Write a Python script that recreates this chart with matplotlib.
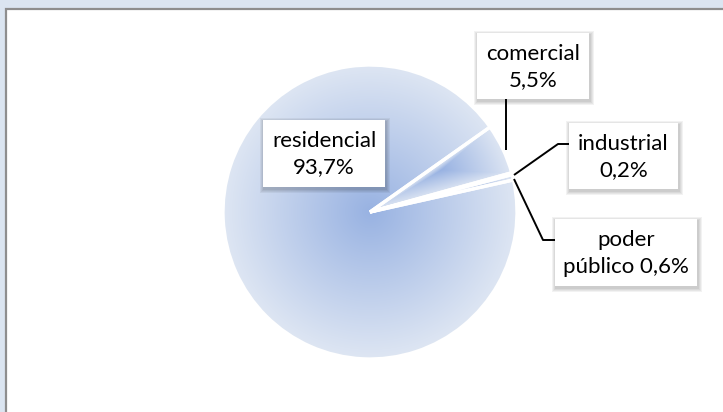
import numpy as np
import matplotlib
matplotlib.use("Agg")
import matplotlib.pyplot as plt
from matplotlib.patches import Rectangle

# Consumption share by class (%)
categories = ["residencial", "comercial", "industrial", "poder público"]
shares = [93.7, 5.5, 0.2, 0.6]
# how each label wraps: name text and separator before the percentage
label_names = ["residencial", "comercial", "industrial", "poder\npúblico"]
label_seps = ["\n", "\n", "\n", " "]

W, H = 723, 412
plt.rcParams["font.family"] = ["Lato", "DejaVu Sans"]

fig = plt.figure(figsize=(W / 100, H / 100), dpi=100)
fig.patch.set_facecolor("#dbe5f1")
ax = fig.add_axes([0, 0, 1, 1])


def Y(y):
    """Convert a top-down pixel row into axis units."""
    return H - y


# white chart panel with grey frame
ax.add_patch(Rectangle((6, -20), W + 40, Y(9) + 20, facecolor="white",
                       edgecolor="#8e8e8e", linewidth=1.6, zorder=0))

cx, cy, R = 370, Y(212), 147
wedges, _ = ax.pie(shares, startangle=12.6, counterclock=False,
                   center=(cx, cy), radius=R,
                   wedgeprops=dict(facecolor="none", edgecolor="white",
                                   linewidth=2.4, zorder=3))
ax.set_xlim(0, W)
ax.set_ylim(0, H)
ax.set_aspect("equal")
ax.axis("off")

c_mid = np.array([152, 178, 226]) / 255.0
c_edge = np.array([222, 230, 243]) / 255.0


def path_gradient(w):
    """Fill a wedge with a gradient that follows its outline."""
    x0, y0 = w.center
    r = w.r
    th = np.radians(np.linspace(w.theta1, w.theta2,
                                int(abs(w.theta2 - w.theta1) / 1.5) + 3))
    poly = np.vstack([[x0, y0], np.c_[x0 + r * np.cos(th), y0 + r * np.sin(th)]])
    lo, hi = poly.min(axis=0), poly.max(axis=0)
    C = (lo + hi) / 2
    xs = np.arange(lo[0] - 1, hi[0] + 2, 1.0)
    ys = np.arange(lo[1] - 1, hi[1] + 2, 1.0)
    gx, gy = np.meshgrid(xs, ys)
    P = np.c_[gx.ravel(), gy.ravel()]
    A = poly
    E = np.roll(poly, -1, axis=0) - A
    Wv = A - C
    t = np.empty(len(P))
    for i in range(0, len(P), 8000):
        d = P[i:i + 8000] - C
        den = d[:, :1] * E[None, :, 1] - d[:, 1:] * E[None, :, 0]
        with np.errstate(divide="ignore", invalid="ignore"):
            s = (Wv[None, :, 0] * E[None, :, 1] - Wv[None, :, 1] * E[None, :, 0]) / den
            u = (Wv[None, :, 0] * d[:, 1:] - Wv[None, :, 1] * d[:, :1]) / den
        ok = np.isfinite(s) & (s > 1e-9) & (u >= -1e-9) & (u <= 1 + 1e-9)
        smin = np.where(ok, s, np.inf).min(axis=1)
        t[i:i + 8000] = np.clip(1.0 / smin, 0, 1)
    t = t.reshape(gx.shape)
    rgb = c_mid[None, None, :] + (c_edge - c_mid)[None, None, :] * t[..., None]
    im = ax.imshow(rgb, origin="lower", interpolation="bilinear",
                   extent=(xs[0] - 0.5, xs[-1] + 0.5, ys[0] - 0.5, ys[-1] + 0.5),
                   zorder=2)
    im.set_clip_path(w)


for w in wedges:
    path_gradient(w)
ax.set_xlim(0, W)
ax.set_ylim(0, H)

# label boxes (left, top, right, bottom in pixel rows) and leader lines
boxes = [(263, 120, 385, 187), (477, 33, 589, 99),
         (569, 123, 678, 189), (555, 219, 697, 286)]
leaders = [None,
           [(506, 99), (506, 150)],
           [(514, 175), (558, 144), (569, 144)],
           [(514, 179), (543, 240), (555, 240)]]

for name, sep, val, (l, t_, r_, b), lead in zip(label_names, label_seps, shares,
                                                boxes, leaders):
    # soft drop shadow
    for k, a in enumerate([0.05, 0.05, 0.05, 0.06]):
        g = 4 - k
        ax.add_patch(Rectangle((l + 1 - g, Y(b) - 2 - g), (r_ - l) + 2 * g,
                               (b - t_) + 2 * g, facecolor="black",
                               edgecolor="none", alpha=a, zorder=4))
    ax.add_patch(Rectangle((l, Y(b)), r_ - l, b - t_, facecolor="white",
                           edgecolor="none", zorder=5))
    txt = f"{name}{sep}{val:.1f}%".replace(".", ",")
    ax.text((l + r_) / 2, Y((t_ + b) / 2) - 1, txt, ha="center", va="center",
            fontsize=16, color="black", linespacing=1.38, zorder=6)
    if lead:
        ax.plot([p[0] for p in lead], [Y(p[1]) for p in lead], color="black",
                linewidth=1.4, zorder=4, solid_capstyle="butt")

fig.savefig("out.png", dpi=100, facecolor=fig.get_facecolor())
